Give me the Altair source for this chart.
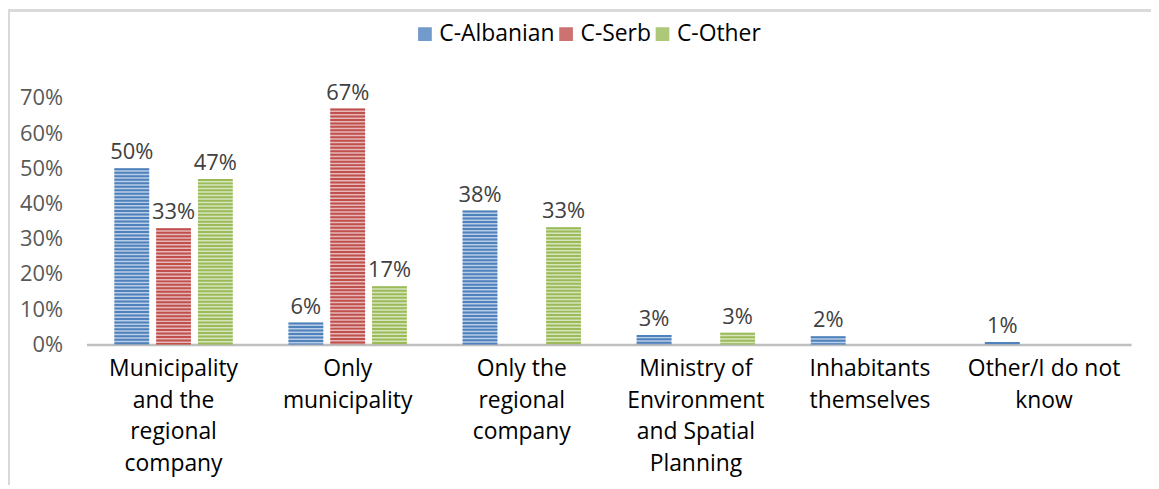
import altair as alt
import pandas as pd

categories = [
    "Municipality\nand the\nregional\ncompany",
    "Only\nmunicipality",
    "Only the\nregional\ncompany",
    "Ministry of\nEnvironment\nand Spatial\nPlanning",
    "Inhabitants\nthemselves",
    "Other/I do not\nknow",
]
groups = ["C-Albanian", "C-Serb", "C-Other"]
albanian = [0.50, 0.062, 0.38, 0.027, 0.023, 0.007]
serb = [0.33, 0.67, 0.0, 0.0, 0.0, 0.0]
other = [0.47, 0.165, 0.333, 0.033, 0.0, 0.0]
colors = ["#4f81bd", "#c0504d", "#9bbb59"]

rows = []
for g, vals in zip(groups, [albanian, serb, other]):
    for c, v in zip(categories, vals):
        rows.append({"category": c, "group": g, "value": v})
df = pd.DataFrame(rows)

FONT = "Open Sans"

x = alt.X("category:N", sort=categories, title=None,
          scale=alt.Scale(paddingInner=0.32, paddingOuter=0.16),
          axis=alt.Axis(labelAngle=0, labelExpr="split(datum.label, '\\n')",
                        labelFontSize=23, labelColor="#000000", labelFont=FONT,
                        labelLineHeight=32, labelPadding=13, ticks=False,
                        domainColor="#bfbfbf", domainWidth=2.5, labelLimit=300))
xo = alt.XOffset("group:N", sort=groups, scale=alt.Scale(paddingInner=0.1667))
color = alt.Color("group:N", sort=groups,
                  scale=alt.Scale(domain=groups, range=colors),
                  legend=alt.Legend(title=None, orient="none", legendX=329, legendY=-76,
                                    direction="horizontal", symbolType="square",
                                    symbolSize=150, labelFontSize=23, labelFont=FONT,
                                    labelColor="#000000", columnPadding=0,
                                    symbolOpacity=0.8, labelOffset=3))
y = alt.Y("value:Q", title=None,
          scale=alt.Scale(domain=[0, 0.7], nice=False),
          axis=alt.Axis(format=".0%", values=[0, 0.1, 0.2, 0.3, 0.4, 0.5, 0.6, 0.7],
                        grid=False, domain=False, ticks=False, labelFontSize=22,
                        labelFont=FONT, labelColor="#595959", labelPadding=24))

base = alt.Chart(df).transform_filter("datum.value > 0")

bars = base.mark_bar(fillOpacity=0.4).encode(x=x, xOffset=xo, y=y, color=color)
stripes = base.mark_rule(strokeWidth=35, strokeDash=[2, 1.5]).encode(
    x=x, xOffset=xo, y=y, y2=alt.datum(0), color=alt.Color("group:N", sort=groups))
labels = base.mark_text(dy=-16, fontSize=22, font=FONT, color="#404040",
                        baseline="middle").encode(
    x=x, xOffset=xo, y=y, text=alt.Text("value:Q", format=".0%"))
frame = alt.Chart(df).mark_rect(filled=False, stroke="#d9d9d9", strokeWidth=2).encode(
    x=alt.value(-78), x2=alt.value(1100), y=alt.value(-88), y2=alt.value(450))

chart = alt.layer(frame, bars, stripes, labels).properties(
    width=1051, height=248,
    autosize=alt.AutoSizeParams(type="none"),
    padding={"left": 79, "top": 89, "right": 20, "bottom": 140},
).configure(font=FONT).configure_view(stroke="transparent", strokeWidth=0)

chart.save("out.html", embed_options={"renderer": "svg", "actions": False})
